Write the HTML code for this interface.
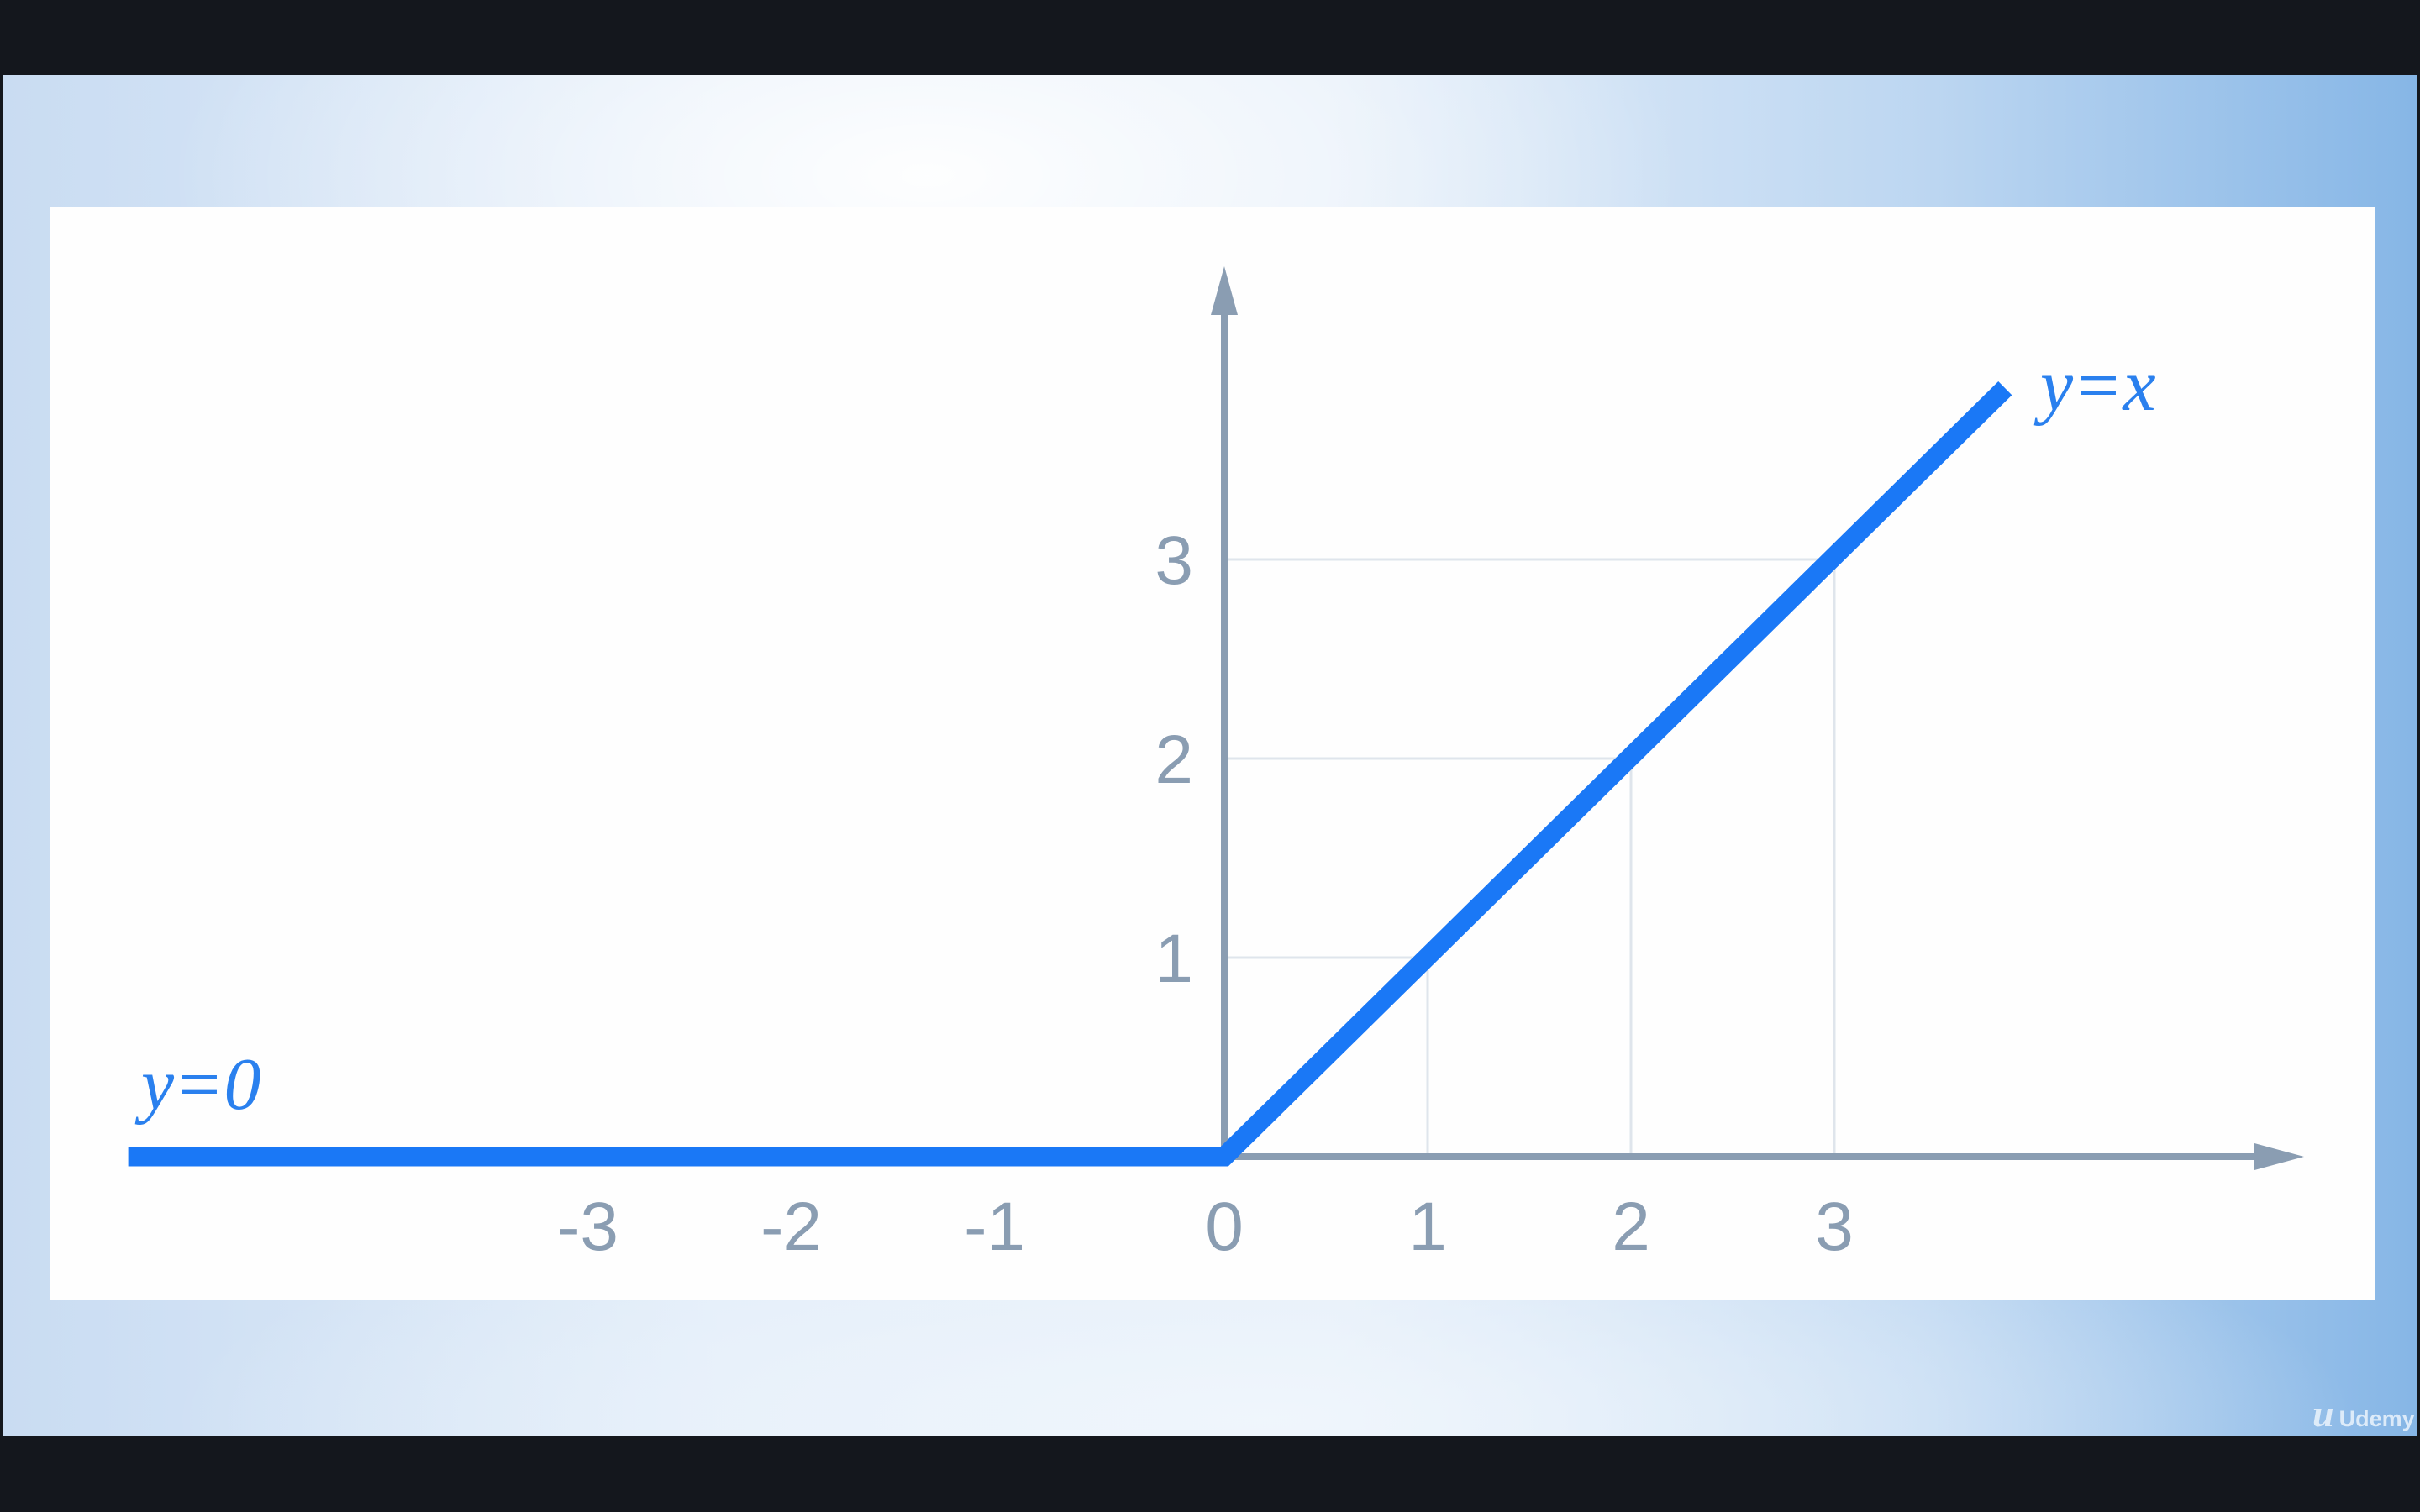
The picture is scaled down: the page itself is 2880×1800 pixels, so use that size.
<!DOCTYPE html>
<html><head><meta charset="utf-8"><style>
html,body{margin:0;padding:0;background:#14171d;}
#stage{position:relative;width:2880px;height:1800px;overflow:hidden;background:#14171d;}
#bg{position:absolute;left:3px;top:89px;width:2874px;height:1621px;
background:
radial-gradient(ellipse 900px 400px at 1100px 120px, rgba(255,255,255,0.95), rgba(255,255,255,0) 100%),
radial-gradient(ellipse 1300px 300px at 1500px 1600px, rgba(240,246,252,0.95), rgba(240,246,252,0) 100%),
linear-gradient(90deg,#c9dcf2 0%,#e2edf9 30%,#e4eef9 55%,#bcd6f1 80%,#86b6e6 100%);}
#panel{position:absolute;left:59px;top:247px;width:2767px;height:1301px;background:#fefefe;}
svg{position:absolute;left:0;top:0;}
</style></head><body>
<div id="stage">
<div id="bg"></div>
<div id="panel"></div>
<svg id="chart" width="2880" height="1800"></svg>
<div style="position:absolute;left:2752px;top:1656px;font-family:'Liberation Sans',sans-serif;color:rgba(235,243,252,0.85);white-space:nowrap;">
<span style="font-family:'Liberation Serif',serif;font-style:italic;font-weight:bold;font-size:46px;">u</span><span style="font-weight:bold;font-size:27px;margin-left:6px;">Udemy</span></div>
</div>
<script>
const xTicks=[-3,-2,-1,0,1,2,3];
const yTicks=[1,2,3];
const xTickLabels=["-3","-2","-1","0","1","2","3"];
const yTickLabels=["1","2","3"];
const reluX=[-5.39,0,3.84];
const reluY=[0,0,3.86];
const gridX=[1,2,3];
const gridY=[1,2,3];

const X0=1457,Y0=1377,SX=242,SY=237;
function xs(v){return X0+v*SX;}
function ys(v){return Y0-v*SY;}
const svg=document.getElementById('chart');
const NS='http://www.w3.org/2000/svg';
function mk(tag,attrs){const e=document.createElementNS(NS,tag);for(const k in attrs)e.setAttribute(k,attrs[k]);svg.appendChild(e);return e;}

gridY.forEach((v,i)=>{
  const l=mk('line',{x1:X0,y1:ys(v),x2:xs(gridX[i]),y2:ys(v),stroke:'#dfe5ec','stroke-width':3});
  
  
});
gridX.forEach((v,i)=>{
  const l=mk('line',{x1:xs(v),y1:Y0,x2:xs(v),y2:ys(gridY[i]),stroke:'#dfe5ec','stroke-width':3});
  
  
});

const ax=mk('line',{x1:X0-4,y1:Y0,x2:2690,y2:Y0,stroke:'#8a9db2','stroke-width':8});


const axh=mk('polygon',{points:'2683,1361 2742,1377 2683,1393',fill:'#8a9db2'});


const ay=mk('line',{x1:X0,y1:Y0+4,x2:X0,y2:370,stroke:'#8a9db2','stroke-width':8});


const ayh=mk('polygon',{points:'1441,375 1457,317 1473,375',fill:'#8a9db2'});



xTicks.forEach((v,i)=>{
  const neg=v<0;
  const t=mk('text',{x:neg?xs(v)+5:xs(v),y:1488,'text-anchor':neg?'end':'middle','font-family':'Liberation Sans, sans-serif','font-size':82,fill:'#8a9db2'});
  t.textContent=xTickLabels[i];
  
  
});
yTicks.forEach((v,i)=>{
  const t=mk('text',{x:1420,y:ys(v)+29,'text-anchor':'end','font-family':'Liberation Sans, sans-serif','font-size':82,fill:'#8a9db2'});
  t.textContent=yTickLabels[i];
  
  
});

const pts=reluX.map((x,i)=>xs(x)+','+ys(reluY[i])).join(' ');
const pl=mk('polyline',{points:pts,fill:'none',stroke:'#1a78f6','stroke-width':23,'stroke-linejoin':'miter','stroke-linecap':'butt'});



const a1=mk('text',{x:168,y:1320,'font-family':'Liberation Serif, serif','font-style':'italic','font-size':88,fill:'#2a80ee'});
a1.textContent='y=0';


const a2=mk('text',{x:2428,y:488,'font-family':'Liberation Serif, serif','font-style':'italic','font-size':88,fill:'#2a80ee'});
a2.textContent='y=x';


</script>
</body></html>
